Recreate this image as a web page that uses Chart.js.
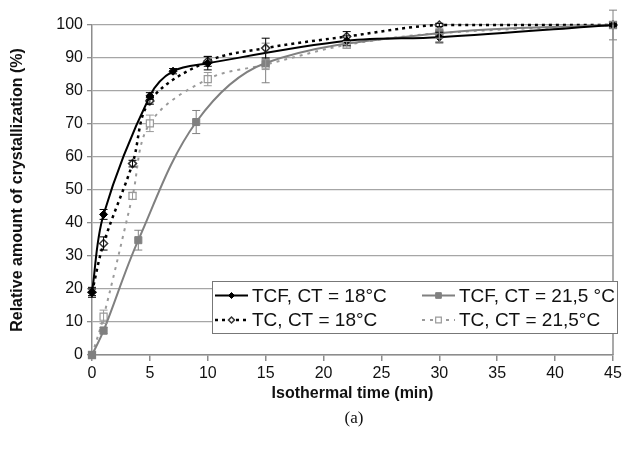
<!DOCTYPE html>
<html>
<head>
<meta charset="utf-8">
<script src="https://cdn.jsdelivr.net/npm/chart.js@4/dist/chart.umd.min.js"></script>
<style>
  html, body { margin: 0; padding: 0; background: #fff; }
  canvas { display: block; }
</style>
</head>
<body>
<canvas id="c" width="627" height="449"></canvas>
<script>
// ---- data ----
const seriesLabels = ['TCF, CT = 18°C', 'TCF, CT = 21,5 °C', 'TC, CT = 18°C', 'TC, CT = 21,5°C'];

const timesTCF18 = [0, 1, 5, 7, 10, 22, 30, 45];
const valsTCF18  = [19, 42.6, 78.5, 86, 88.4, 95.2, 96.3, 100];
const errTCF18   = [1, 1.5, 1, 0.8, 2, 1.5, 1.5, 1];

const timesTCF215 = [0, 1, 4, 9, 15, 30, 45];
const valsTCF215  = [0, 7.4, 34.8, 70.6, 88.5, 97.5, 100];
const errTCF215   = [0, 1, 3, 3.5, 6, 3, 4.5];

const timesTC18 = [0, 1, 3.5, 5, 10, 15, 22, 30, 45];
const valsTC18  = [19, 33.8, 58, 77, 89, 93, 96.5, 100, 100];
const errTC18   = [1.5, 2, 1, 1, 1.5, 3, 1.5, 0.5, 0.5];

const timesTC215 = [0, 1, 3.5, 5, 10, 15, 22, 30, 45];
const valsTC215  = [0, 11.6, 48.2, 70.2, 83.6, 88, 94, 97.5, 100];
const errTC215   = [0, 2, 1, 2.5, 2, 1.5, 1, 1.5, 1];

const xTicksMax = 45, xStep = 5, yMax = 100, yStep = 10;

function pts(ts, vs) { return ts.map((t, i) => ({ x: t, y: vs[i] })); }

const FONT = '"Liberation Sans", Arial, sans-serif';
const DARK = '#000000';
const GRAY = '#808080';
const LGRAY = '#9a9a9a';

const datasets = [
  { label: seriesLabels[0], data: pts(timesTCF18, valsTCF18), err: errTCF18,
    borderColor: DARK, borderWidth: 2, pointStyle: 'rectRot', pointRadius: 4,
    pointBackgroundColor: DARK, pointBorderColor: DARK, pointBorderWidth: 1 },
  { label: seriesLabels[1], data: pts(timesTCF215, valsTCF215), err: errTCF215,
    borderColor: GRAY, borderWidth: 2, pointStyle: 'rect', pointRadius: 5,
    pointBackgroundColor: GRAY, pointBorderColor: GRAY, pointBorderWidth: 1 },
  { label: seriesLabels[2], data: pts(timesTC18, valsTC18), err: errTC18,
    borderColor: DARK, borderWidth: 2.5, borderDash: [3, 4], pointStyle: 'rectRot', pointRadius: 4,
    pointBackgroundColor: '#fff', pointBorderColor: '#333', pointBorderWidth: 1.5 },
  { label: seriesLabels[3], data: pts(timesTC215, valsTC215), err: errTC215,
    borderColor: LGRAY, borderWidth: 2, borderDash: [3, 5], pointStyle: 'rect', pointRadius: 5,
    pointBackgroundColor: '#fff', pointBorderColor: LGRAY, pointBorderWidth: 1.2 }
];
datasets.forEach(d => { d.fill = false; d.tension = 0.35; d.clip = false; });

const extras = {
  id: 'extras',
  afterDatasetsDraw(chart) {
    const { ctx, chartArea: ca, scales: { x, y } } = chart;
    ctx.save();
    // error bars
    chart.data.datasets.forEach(ds => {
      ctx.strokeStyle = ds.borderColor;
      ctx.lineWidth = 1;
      ds.data.forEach((p, i) => {
        const e = ds.err[i];
        if (!e) return;
        const px = x.getPixelForValue(p.x);
        const y1 = y.getPixelForValue(p.y + e), y2 = y.getPixelForValue(p.y - e);
        ctx.beginPath();
        ctx.moveTo(px, y1); ctx.lineTo(px, y2);
        ctx.moveTo(px - 4, y1); ctx.lineTo(px + 4, y1);
        ctx.moveTo(px - 4, y2); ctx.lineTo(px + 4, y2);
        ctx.stroke();
      });
    });
    // right border of the plot area
    ctx.strokeStyle = '#8c8c8c';
    ctx.lineWidth = 1.5;
    ctx.beginPath();
    ctx.moveTo(ca.right, ca.top); ctx.lineTo(ca.right, ca.bottom);
    ctx.stroke();

    // legend box
    const bx = 212, by = 281, bw = 405, bh = 52;
    ctx.fillStyle = '#fff';
    ctx.fillRect(bx, by, bw, bh);
    ctx.strokeStyle = '#777';
    ctx.lineWidth = 1;
    ctx.strokeRect(bx + 0.5, by + 0.5, bw, bh);
    const colX = [215, 422], rowY = [295.5, 320];
    ctx.font = '19px ' + FONT;
    ctx.textBaseline = 'middle';
    ctx.textAlign = 'left';
    chart.data.datasets.forEach((ds, i) => {
      const lx = colX[i % 2], ly = rowY[Math.floor(i / 2)];
      ctx.save();
      ctx.strokeStyle = ds.borderColor;
      ctx.lineWidth = ds.borderWidth;
      ctx.setLineDash(ds.borderDash || []);
      ctx.beginPath();
      ctx.moveTo(lx, ly); ctx.lineTo(lx + 33, ly);
      ctx.stroke();
      ctx.setLineDash([]);
      ctx.fillStyle = ds.pointBackgroundColor;
      ctx.strokeStyle = ds.pointBorderColor;
      ctx.lineWidth = ds.pointBorderWidth;
      Chart.helpers.drawPoint(ctx, { pointStyle: ds.pointStyle, radius: ds.pointRadius - 1, rotation: 0, borderWidth: ds.pointBorderWidth }, lx + 16.5, ly);
      ctx.restore();
      ctx.fillStyle = '#111';
      ctx.fillText(ds.label, lx + 37, ly + 1);
    });

    // caption
    ctx.font = '17px "Liberation Serif", "Times New Roman", serif';
    ctx.textAlign = 'center';
    ctx.fillStyle = '#111';
    ctx.fillText('(a)', 354, 419);
    ctx.restore();
  }
};

new Chart(document.getElementById('c'), {
  type: 'line',
  data: { datasets },
  options: {
    responsive: false,
    animation: false,
    events: [],
    layout: { padding: { left: 0, right: 14, top: 25, bottom: 0 } },
    plugins: { legend: { display: false }, tooltip: { enabled: false } },
    scales: {
      x: {
        type: 'linear', min: 0, max: xTicksMax,
        ticks: { stepSize: xStep, color: '#111', font: { family: FONT, size: 16 }, padding: 3, maxRotation: 0 },
        grid: { drawOnChartArea: false, drawTicks: true, tickLength: 6, color: '#8c8c8c', lineWidth: 1.5 },
        border: { color: '#8c8c8c', width: 1.5 },
        title: { display: true, text: 'Isothermal time (min)', color: '#111',
                 font: { family: FONT, size: 16, weight: 'bold' }, padding: { top: 0, bottom: 46 } },
        afterFit(s) { s.height = 94; }
      },
      y: {
        min: 0, max: yMax,
        ticks: { stepSize: yStep, color: '#111', font: { family: FONT, size: 16 }, padding: 4 },
        grid: { color: '#a6a6a6', lineWidth: 1.3, tickLength: 5, tickColor: '#8c8c8c' },
        border: { color: '#8c8c8c', width: 1.5 },
        title: { display: true, text: 'Relative amount of crystallization (%)', color: '#111',
                 font: { family: FONT, size: 16, weight: 'bold' }, padding: { top: 8, bottom: 0 } },
        afterFit(s) { s.width = 92; }
      }
    }
  },
  plugins: [extras]
});
</script>
</body>
</html>
